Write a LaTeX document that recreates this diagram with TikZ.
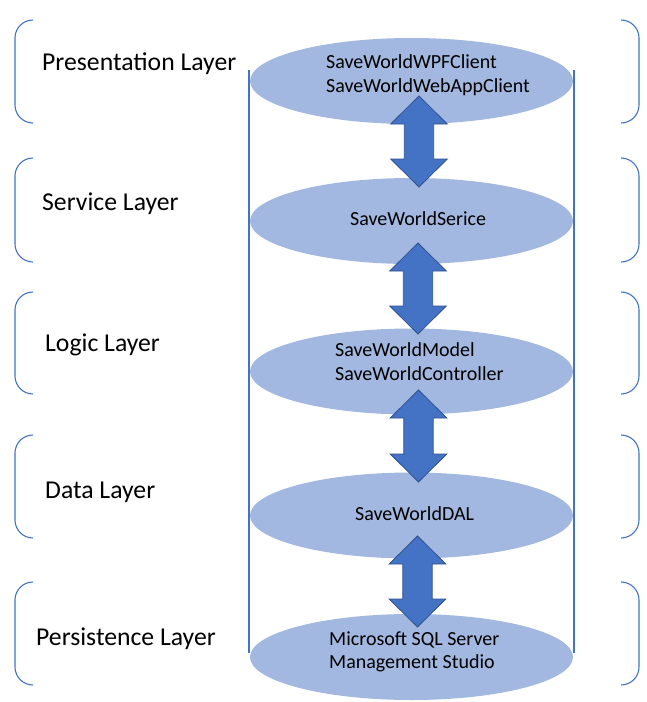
\documentclass[tikz,border=0pt]{standalone}
\usepackage{fontspec}
\setmainfont{Carlito}
\usetikzlibrary{shapes.geometric}
\definecolor{ellfill}{HTML}{A3B8E0}
\definecolor{accent}{HTML}{4472C4}
\definecolor{arrowline}{HTML}{2F528F}
\newcommand{\blockarr}[3]{%
  \filldraw[barrow] (#1,#2) -- (#1+28.3,#2+28) -- (#1+14.7,#2+28) -- (#1+14.7,#3-28)
    -- (#1+28.3,#3-28) -- (#1,#3) -- (#1-28.3,#3-28) -- (#1-14.7,#3-28)
    -- (#1-14.7,#2+28) -- (#1-28.3,#2+28) -- cycle;}
\begin{document}
\begin{tikzpicture}[x=1pt,y=-1pt,
  ell/.style={ellipse, fill=ellfill, draw=none, minimum width=323pt, minimum height=86pt, inner sep=0pt},
  barrow/.style={fill=accent, draw=arrowline, line width=0.8pt, line join=miter},
  brack/.style={draw=accent, line width=1.1pt, rounded corners=18pt},
  vline/.style={draw=accent, line width=1.1pt},
  layer/.style={anchor=base west, inner sep=0pt, font=\fontsize{25.7}{30}\selectfont},
  itxt/.style={anchor=base west, inner sep=0pt, font=\fontsize{20}{24}\selectfont}]
\useasboundingbox[fill=white] (0,0) rectangle (647,702);

% ellipses
\node[ell] (e1) at (411.5,81) {};
\node[ell] (e2) at (411.5,221) {};
\node[ell] (e3) at (411.5,371.5) {};
\node[ell] (e4) at (411.5,515.5) {};
\node[ell] (e5) at (411.5,657) {};

% vertical lines
\coordinate (lt) at (249,70); \coordinate (lb) at (249,653);
\coordinate (rt) at (574,70); \coordinate (rb) at (574,653);
\draw[vline] (lt) -- (lb);
\draw[vline] (rt) -- (rb);

% block arrows
\blockarr{419}{96}{187}
\blockarr{418}{243}{334}
\blockarr{418.5}{390}{482}
\blockarr{417.5}{536}{627}

% ellipse texts
\node[itxt] (t1a) at (326,68.3) {SaveWorldWPFClient};
\node[itxt] (t1b) at (326,92.5) {SaveWorldWebAppClient};
\node[itxt] (t2) at (350,225) {SaveWorldSerice};
\node[itxt] (t3a) at (335,356.7) {SaveWorldModel};
\node[itxt] (t3b) at (335,380.7) {SaveWorldController};
\node[itxt] (t4) at (355,520.7) {SaveWorldDAL};
\node[itxt] (t5a) at (329,645) {Microsoft SQL Server};
\node[itxt] (t5b) at (329,668.5) {Management Studio};

% layer labels
\node[layer] (l1) at (42,70.7) {Presentation Layer};
\node[layer] (l2) at (42,210) {Service Layer};
\node[layer] (l3) at (45,351.7) {Logic Layer};
\node[layer] (l4) at (45,498) {Data Layer};
\node[layer] (l5) at (36,645.7) {Persistence Layer};

% brackets
\foreach \a/\b in {20/123, 158/262, 292/394, 435/538, 582/685}{
  \draw[brack] (33,\a) -- (15,\a) -- (15,\b) -- (33,\b);
  \draw[brack] (621,\a) -- (639,\a) -- (639,\b) -- (621,\b);
}
\end{tikzpicture}
\end{document}
